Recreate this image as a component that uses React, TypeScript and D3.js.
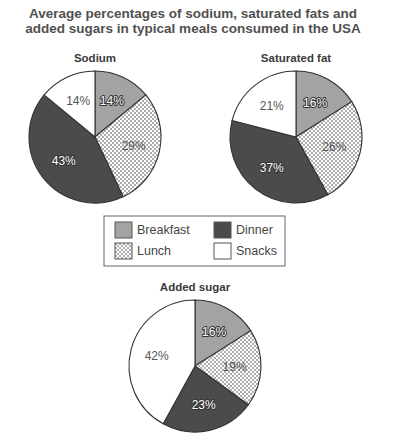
import { useEffect, useRef } from 'react';
import * as d3 from 'd3';

const meals = ['Breakfast', 'Lunch', 'Dinner', 'Snacks'];
const sodium = [14, 29, 43, 14];
const saturatedFat = [16, 26, 37, 21];
const addedSugar = [16, 19, 23, 42];
const titleLines = [
  'Average percentages of sodium, saturated fats and',
  'added sugars in typical meals consumed in the USA',
];

const W = 402;
const H = 441;

const fills: Record<string, string> = {
  Breakfast: '#a3a3a3',
  Lunch: 'url(#hatch)',
  Dinner: '#4b4b4b',
  Snacks: '#ffffff',
};
// Dark slices get white labels with a dark outline
const outlined = new Set(['Breakfast', 'Dinner']);
const FONT = 'Liberation Sans, Arial, sans-serif';

export default function App() {
  const svgRef = useRef<SVGSVGElement>(null);

  useEffect(() => {
    if (!svgRef.current) return;
    const svg = d3.select(svgRef.current);
    svg.selectAll('*').remove();

    // Crosshatch pattern for lunch
    const defs = svg.append('defs');
    const pat = defs
      .append('pattern')
      .attr('id', 'hatch')
      .attr('patternUnits', 'userSpaceOnUse')
      .attr('width', 4)
      .attr('height', 4);
    pat.append('rect').attr('width', 4).attr('height', 4).attr('fill', '#fff');
    pat.append('path').attr('d', 'M0,0 L4,4 M4,0 L0,4').attr('stroke', '#8a8a8a').attr('stroke-width', 0.7);

    // Title
    svg
      .append('g')
      .selectAll('text')
      .data(titleLines)
      .enter()
      .append('text')
      .attr('x', 193)
      .attr('y', (_, i) => 18 + i * 15)
      .attr('text-anchor', 'middle')
      .attr('fill', '#505050')
      .style('font-family', FONT)
      .style('font-weight', 'bold')
      .style('font-size', '13.5px')
      .text((d) => d);

    const pie = d3.pie<number>().sort(null).value((d) => d);
    const r = 66;
    const arc = d3.arc<d3.PieArcDatum<number>>().innerRadius(0).outerRadius(r);
    const labelArc = d3.arc<d3.PieArcDatum<number>>().innerRadius(r * 0.6).outerRadius(r * 0.6);

    const charts = [
      { name: 'Sodium', values: sodium, cx: 95, cy: 137 },
      { name: 'Saturated fat', values: saturatedFat, cx: 296, cy: 137 },
      { name: 'Added sugar', values: addedSugar, cx: 195, cy: 366 },
    ];

    charts.forEach((c) => {
      const g = svg.append('g').attr('transform', `translate(${c.cx},${c.cy})`);
      g.append('text')
        .attr('x', 0)
        .attr('y', -r - 9)
        .attr('text-anchor', 'middle')
        .attr('fill', '#3a3a3a')
        .style('font-family', FONT)
        .style('font-weight', 'bold')
        .style('font-size', '11.5px')
        .text(c.name);

      const arcs = pie(c.values);
      g.selectAll('path.slice')
        .data(arcs)
        .enter()
        .append('path')
        .attr('d', arc)
        .attr('fill', (_, i) => fills[meals[i]])
        .attr('stroke', '#333')
        .attr('stroke-width', 1.1);

      arcs.forEach((d, i) => {
        const [lx, ly] = labelArc.centroid(d);
        const isOut = outlined.has(meals[i]);
        const layers = isOut ? ['halo', 'fill'] : ['fill'];
        layers.forEach((layer) => {
          g.append('text')
            .attr('x', lx)
            .attr('y', ly)
            .attr('dy', '0.35em')
            .attr('text-anchor', 'middle')
            .style('font-family', FONT)
            .style('font-size', '12px')
            .attr('fill', layer === 'halo' ? 'none' : isOut ? '#fff' : '#555')
            .attr('stroke', layer === 'halo' ? '#333' : 'none')
            .attr('stroke-width', layer === 'halo' ? 2 : 0)
            .attr('stroke-linejoin', 'round')
            .text(`${d.data}%`);
        });
      });
    });

    // Legend
    const legend = svg.append('g').attr('transform', 'translate(104,216)');
    legend.append('rect').attr('width', 181).attr('height', 50).attr('fill', '#fff').attr('stroke', '#666');
    const cols = [11, 110];
    const legendOrder = ['Breakfast', 'Dinner', 'Lunch', 'Snacks'];
    legendOrder.forEach((m, i) => {
      const x = cols[i % 2];
      const y = 6 + Math.floor(i / 2) * 21;
      legend
        .append('rect')
        .attr('x', x)
        .attr('y', y)
        .attr('width', 17)
        .attr('height', 16)
        .attr('fill', fills[m])
        .attr('stroke', '#555');
      legend
        .append('text')
        .attr('x', x + 22)
        .attr('y', y + 12)
        .attr('fill', '#444')
        .style('font-family', FONT)
        .style('font-size', '12.5px')
        .text(m);
    });
  }, []);

  return (
    <div style={{ width: W, height: H, margin: -8, background: '#fff' }}>
      <svg ref={svgRef} width={W} height={H} style={{ display: 'block' }} />
    </div>
  );
}
